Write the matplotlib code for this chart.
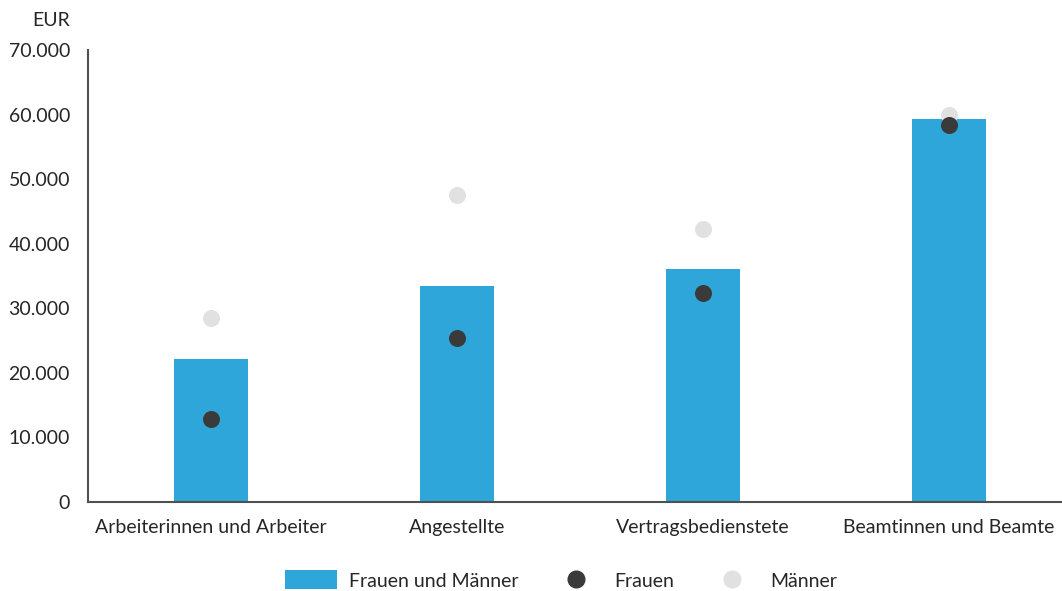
import matplotlib.pyplot as plt
from matplotlib.patches import Patch
from matplotlib.lines import Line2D

plt.rcParams["font.family"] = ["Lato", "DejaVu Sans"]

categories = ["Arbeiterinnen und Arbeiter", "Angestellte", "Vertragsbedienstete", "Beamtinnen und Beamte"]
gesamt = [22100, 33500, 36100, 59300]
frauen = [12900, 25400, 32400, 58400]
maenner = [28500, 47500, 42300, 59900]
yticks = [0, 10000, 20000, 30000, 40000, 50000, 60000, 70000]

blue = "#2ea6da"
dark = "#3a3a3a"
light = "#e1e1e1"
txt = "#262626"
fs = 14

fig = plt.figure(figsize=(10.62, 5.91), dpi=100)
ax = fig.add_axes([88 / 1062, 89 / 591, 984 / 1062, 452 / 591])

x = range(len(categories))
ax.bar(x, gesamt, width=0.3, color=blue, zorder=2)
ax.scatter(x, maenner, s=150, color=light, zorder=3, linewidths=0)
ax.scatter(x, frauen, s=150, color=dark, zorder=4, linewidths=0)

ax.set_xlim(-0.5, 3.5)
ax.set_ylim(0, 70000)
ax.set_yticks(yticks)
ax.set_yticklabels([f"{v:,}".replace(",", ".") for v in yticks])
ax.set_xticks(list(x))
ax.set_xticklabels(categories)
ax.tick_params(axis="both", length=0, labelsize=fs, colors=txt)
ax.tick_params(axis="y", pad=13)
ax.tick_params(axis="x", pad=12)

for s in ["top", "right"]:
    ax.spines[s].set_visible(False)
for s in ["left", "bottom"]:
    ax.spines[s].set_color("#505050")
    ax.spines[s].set_linewidth(1.5)

fig.text(70 / 1062, 1 - 20 / 591, "EUR", ha="right", va="center", fontsize=fs, color=txt)

handles = [
    Patch(facecolor=blue, edgecolor="none"),
    Line2D([], [], marker="o", ls="none", color=dark, markersize=12),
    Line2D([], [], marker="o", ls="none", color=light, markersize=12),
]
fig.legend(handles, ["Frauen und Männer", "Frauen", "Männer"], loc="center",
           bbox_to_anchor=(0.528, 1 - 580 / 591), ncol=3, frameon=False,
           fontsize=fs, labelcolor=txt, handlelength=2.7, handleheight=1.13,
           handletextpad=0.62, columnspacing=1.6)

fig.savefig("out.png", dpi=100)
